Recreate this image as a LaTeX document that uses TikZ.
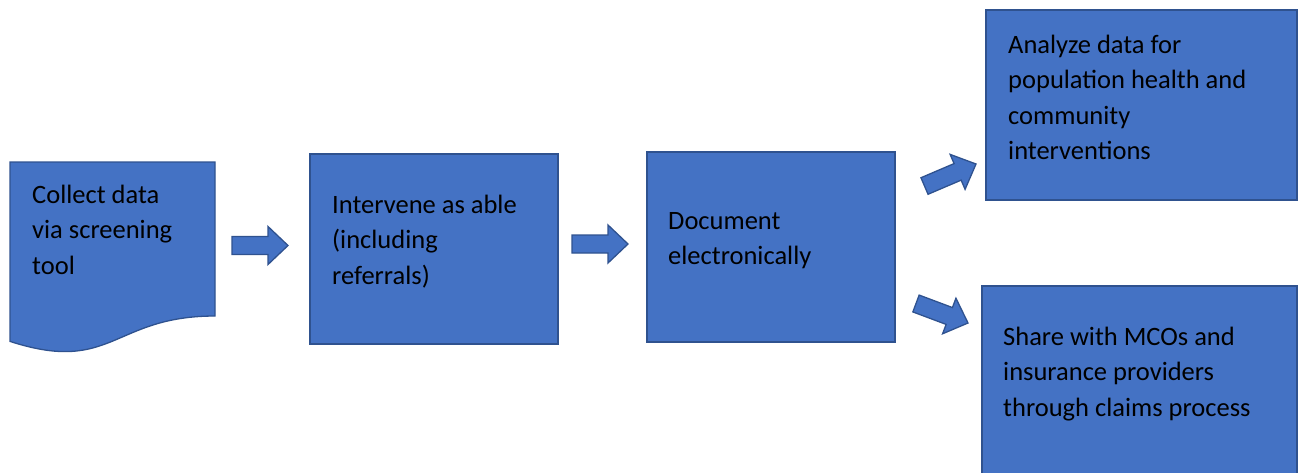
\documentclass[tikz,border=0pt]{standalone}
\usepackage{fontspec}
\setmainfont{Carlito}
\usetikzlibrary{calc}
\definecolor{boxfill}{HTML}{4472C4}
\definecolor{boxline}{HTML}{2F528F}
\tikzset{
  flowbox/.style={draw=boxline, fill=boxfill, line width=1.3pt, anchor=north west, inner sep=0pt, outer sep=0pt},
  boxtext/.style={anchor=base west, align=left, inner sep=0pt, font=\fontsize{26.5}{35.5}\selectfont, text=black},
  blockarr/.style={draw=boxline, fill=boxfill, line width=1.3pt, line join=miter},
}
\newcommand\blockarrow[2]{%
  \coordinate (ba-h) at ($(#2)!20pt!(#1)$);
  \draw[blockarr] ($(#1)!9pt!90:(#2)$) -- ($(ba-h)!9pt!90:(#2)$) -- ($(ba-h)!19pt!90:(#2)$)
    -- (#2) -- ($(ba-h)!19pt!-90:(#2)$) -- ($(ba-h)!9pt!-90:(#2)$) -- ($(#1)!9pt!-90:(#2)$) -- cycle;}
\begin{document}
\begin{tikzpicture}[x=1pt,y=-1pt]
\useasboundingbox (0,0) rectangle (1299,472);
\clip (0,0) rectangle (1299,472);
% document shape
\draw[blockarr] (10,162) coordinate (d-nw) -- (215,162) -- (215,316)
  .. controls (112.5,316) and (112.5,374.6) .. (10,341.4) -- cycle;
% (anchor base west = baseline of the last line)
\node[boxtext] (t1) at (32,274) {Collect data\\via screening\\tool};
% boxes
\node[flowbox, minimum width=248pt, minimum height=190pt] (b2) at (310,154) {};
\node[boxtext] (t2) at (332,284) {Intervene as able\\(including\\referrals)};
\node[flowbox, minimum width=248pt, minimum height=190pt] (b3) at (647,152) {};
\node[boxtext] (t3) at (668,264.5) {Document\\electronically};
\node[flowbox, minimum width=311pt, minimum height=190pt] (b4) at (986,10) {};
\node[boxtext] (t4) at (1008,159.5) {Analyze data for\\population health and\\community\\interventions};
\node[flowbox, minimum width=315pt, minimum height=200pt] (b5) at (982,286) {};
\node[boxtext] (t5) at (1003,416) {Share with MCOs and\\insurance providers\\through claims process};
% arrows
\coordinate (a1s) at (232,245.5); \coordinate (a1e) at (288,245.5);
\coordinate (a2s) at (572,244); \coordinate (a2e) at (628,244);
\coordinate (a3s) at (924.5,186); \coordinate (a3e) at (976,164);
\coordinate (a4s) at (916,303.5); \coordinate (a4e) at (968,323);
\blockarrow{a1s}{a1e}
\blockarrow{a2s}{a2e}
\blockarrow{a3s}{a3e}
\blockarrow{a4s}{a4e}
\end{tikzpicture}
\end{document}
